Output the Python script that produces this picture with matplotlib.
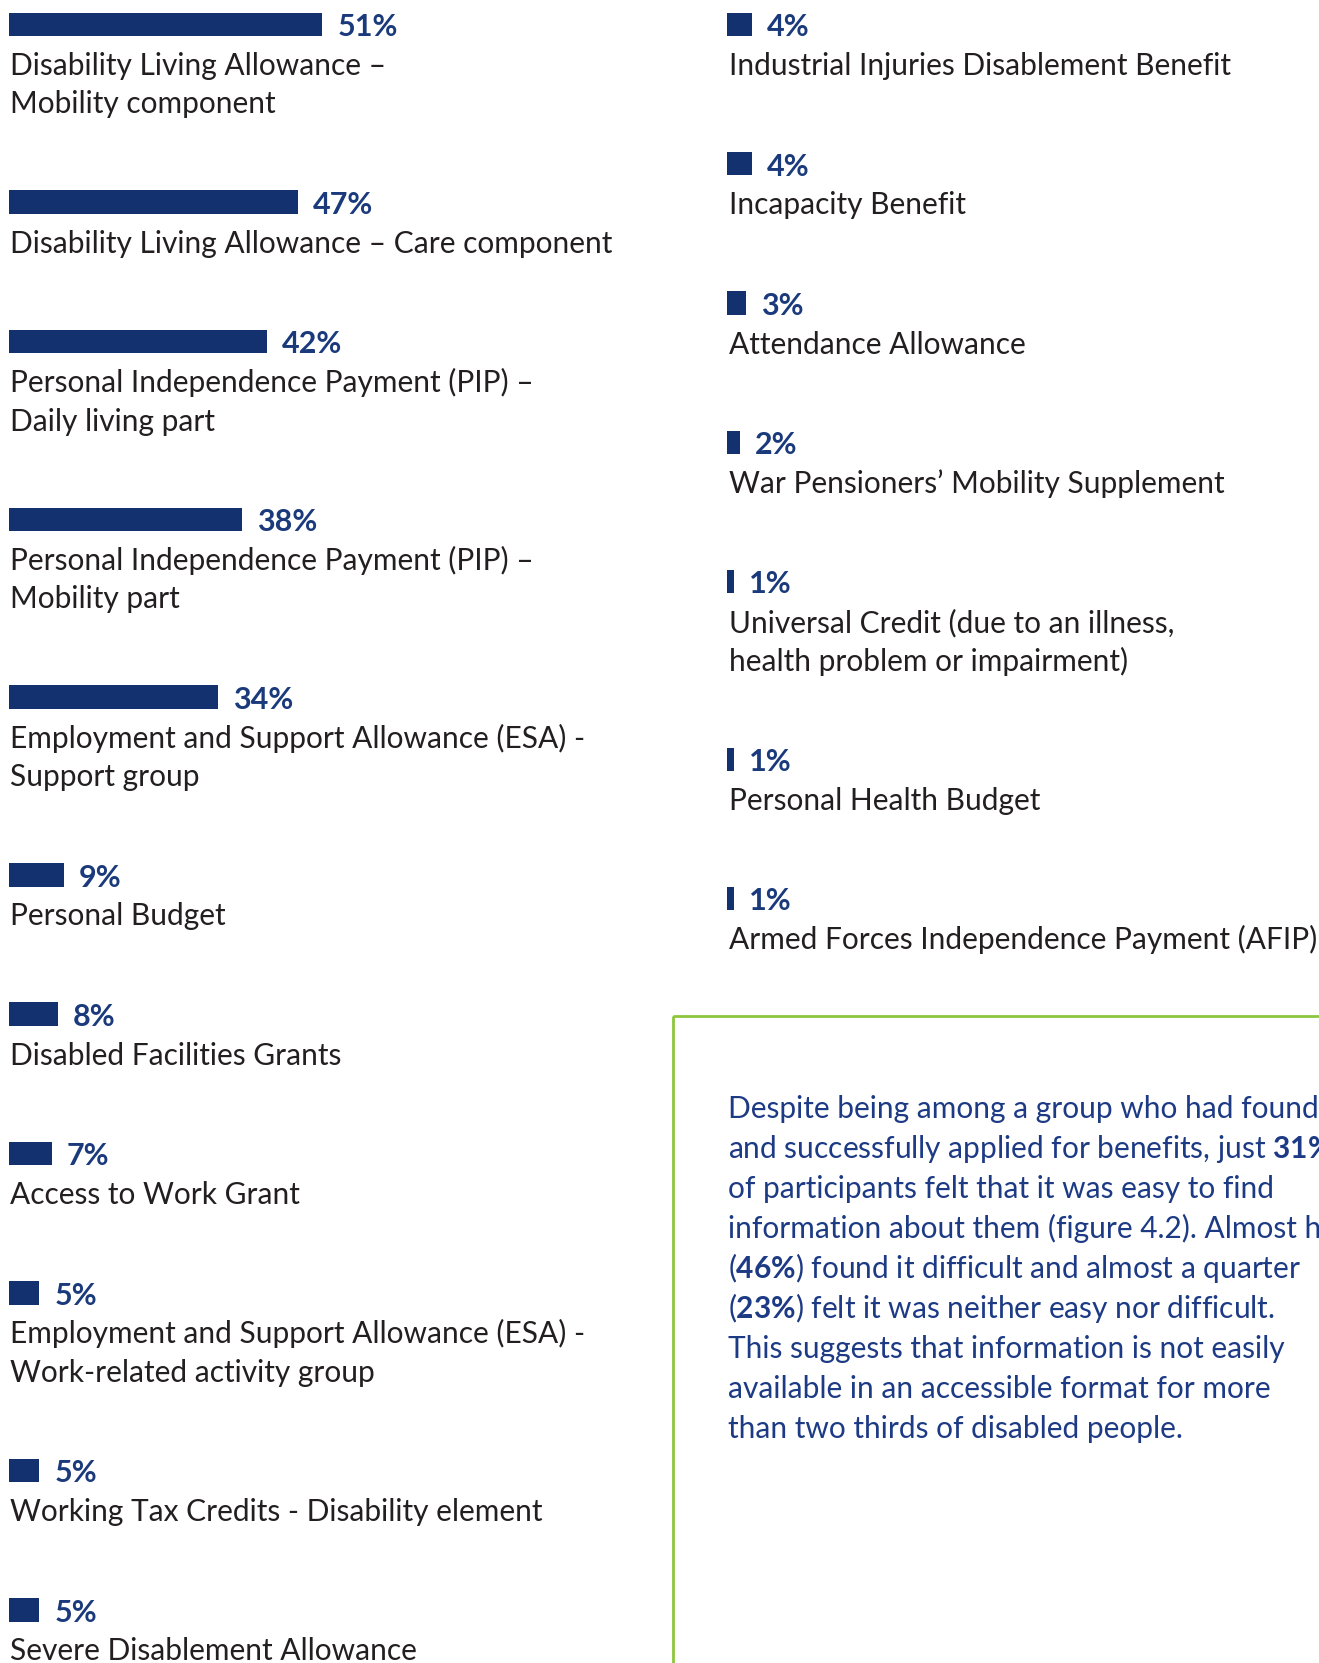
import matplotlib
matplotlib.use("Agg")
import matplotlib.pyplot as plt
from matplotlib.patches import Rectangle

# --- Data ---
left_labels = [
    "Disability Living Allowance –\nMobility component",
    "Disability Living Allowance – Care component",
    "Personal Independence Payment (PIP) –\nDaily living part",
    "Personal Independence Payment (PIP) –\nMobility part",
    "Employment and Support Allowance (ESA) -\nSupport group",
    "Personal Budget",
    "Disabled Facilities Grants",
    "Access to Work Grant",
    "Employment and Support Allowance (ESA) -\nWork-related activity group",
    "Working Tax Credits - Disability element",
    "Severe Disablement Allowance",
]
left_values = [51, 47, 42, 38, 34, 9, 8, 7, 5, 5, 5]

right_labels = [
    "Industrial Injuries Disablement Benefit",
    "Incapacity Benefit",
    "Attendance Allowance",
    "War Pensioners’ Mobility Supplement",
    "Universal Credit (due to an illness,\nhealth problem or impairment)",
    "Personal Health Budget",
    "Armed Forces Independence Payment (AFIP)",
]
right_values = [4, 4, 3, 2, 1, 1, 1]

paragraph_lines = [
    "Despite being among a group who had found",
    r"and successfully applied for benefits, just $\mathbf{31\%}$",
    "of participants felt that it was easy to find",
    "information about them (figure 4.2). Almost half",
    r"($\mathbf{46\%}$) found it difficult and almost a quarter",
    r"($\mathbf{23\%}$) felt it was neither easy nor difficult.",
    "This suggests that information is not easily",
    "available in an accessible format for more",
    "than two thirds of disabled people.",
]

# --- Style ---
W, H = 1319, 1663
PX_PER_PCT = 6.15
BAR_COLOR = "#14316f"
PCT_COLOR = "#1a3a7c"
LABEL_COLOR = "#231f20"
PARA_COLOR = "#1d3a85"
GREEN = "#8cc63f"
FONT = "Lato"
LABEL_SIZE = 21.5
PCT_SIZE = 22
PARA_SIZE = 21.5

plt.rcParams["font.family"] = FONT
plt.rcParams["mathtext.fontset"] = "custom"
plt.rcParams["mathtext.rm"] = FONT
plt.rcParams["mathtext.bf"] = FONT + ":bold"

FIRST_Y = 24.4      # centre of first bar (px from top)
STEP = 139.3        # item height for a one-line label
EXTRA_LINE = 38.5   # extra height per additional label line
BAR_H = 23.5


def draw_column(fig, x0, labels, values):
    width_px = W - x0
    ax = fig.add_axes([x0 / W, 0, width_px / W, 1])
    ax.set_xlim(0, width_px / PX_PER_PCT)
    ax.set_ylim(H, 0)
    ax.axis("off")

    ys = []
    y = FIRST_Y
    for lab in labels:
        ys.append(y)
        y += STEP + EXTRA_LINE * lab.count("\n")

    ax.barh(ys, values, height=BAR_H, left=0, color=BAR_COLOR)

    for yc, lab, v in zip(ys, labels, values):
        ax.text(v + 15 / PX_PER_PCT, yc + 11.8, f"{v}%", color=PCT_COLOR,
                fontsize=PCT_SIZE, fontweight="bold", va="baseline", ha="left")
        for i, line in enumerate(lab.split("\n")):
            ax.text(2 / PX_PER_PCT, yc + 50.6 + i * EXTRA_LINE, line,
                    color=LABEL_COLOR, fontsize=LABEL_SIZE, va="baseline",
                    ha="left", clip_on=False)
    return ax


fig = plt.figure(figsize=(W / 100, H / 100), dpi=100)

draw_column(fig, 8.5, left_labels, left_values)
draw_column(fig, 727.4, right_labels, right_values)

# callout box with paragraph (runs off the right edge, as in the source page)
bg = fig.add_axes([0, 0, 1, 1], zorder=-1)
bg.set_xlim(0, W)
bg.set_ylim(H, 0)
bg.axis("off")
bg.add_patch(Rectangle((672.5, 1016), 800, 800, fill=False,
                       edgecolor=GREEN, linewidth=2))

for i, line in enumerate(paragraph_lines):
    bg.text(728.5, 1118 + i * 40, line, color=PARA_COLOR, fontsize=PARA_SIZE,
            va="baseline", ha="left")

fig.savefig("out.png", dpi=100)
